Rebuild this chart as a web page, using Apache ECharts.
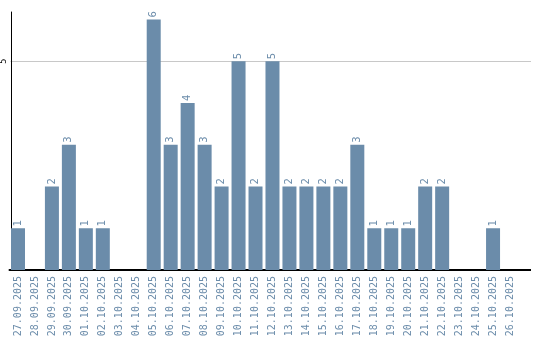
<!DOCTYPE html>
<html><head><meta charset="utf-8">
<script src="https://cdn.jsdelivr.net/npm/echarts@6/dist/echarts.min.js"></script>
<style>html,body{margin:0;padding:0;background:#fff}#c{width:540px;height:340px}</style>
</head><body><div id="c"></div>
<script>
const categories = ["27.09.2025","28.09.2025","29.09.2025","30.09.2025","01.10.2025","02.10.2025","03.10.2025","04.10.2025","05.10.2025","06.10.2025","07.10.2025","08.10.2025","09.10.2025","10.10.2025","11.10.2025","12.10.2025","13.10.2025","14.10.2025","15.10.2025","16.10.2025","17.10.2025","18.10.2025","19.10.2025","20.10.2025","21.10.2025","22.10.2025","23.10.2025","24.10.2025","25.10.2025","26.10.2025"];
const values = [1,0,2,3,1,1,0,0,6,3,4,3,2,5,2,5,2,2,2,2,3,1,1,1,2,2,0,0,1,0];
const gridLineValue = 5;
const color = '#6b8caa';
const chart = echarts.init(document.getElementById('c'));
chart.setOption({
  animation:false,
  grid:{left:8.5,width:510,top:12,bottom:70,containLabel:false},
  xAxis:{type:'category',data:categories,
    axisLine:{lineStyle:{color:'#000',width:2}},
    axisTick:{show:false},
    axisLabel:{rotate:90,interval:0,color:color,fontFamily:'DejaVu Sans Mono',fontSize:10,margin:6}},
  yAxis:{type:'value',min:0,max:6.18,interval:5,offset:-1.5,
    axisLine:{show:true,lineStyle:{color:'#000',width:1}},
    axisTick:{show:false},
    splitLine:{show:false},
    axisLabel:{rotate:90,showMinLabel:false,showMaxLabel:false,color:'#000',fontSize:8,margin:3,fontFamily:'DejaVu Sans'}},
  series:[{type:'bar',data:values.map(v=>v===0?null:v),barWidth:14,
    itemStyle:{color:color},
    label:{show:true,position:'top',rotate:90,align:'left',verticalAlign:'middle',distance:2,color:color,fontSize:10,fontFamily:'DejaVu Sans'}}]
});
const yGrid = chart.convertToPixel({yAxisIndex:0}, gridLineValue);
const yZero = chart.convertToPixel({yAxisIndex:0}, 0);
chart.setOption({graphic:[
  {type:'line',shape:{x1:10.5,y1:Math.round(yGrid)+0.5,x2:531,y2:Math.round(yGrid)+0.5},style:{stroke:'#c8c8c8',lineWidth:1},z:-1},
  {type:'line',shape:{x1:510,y1:yZero,x2:531,y2:yZero},style:{stroke:'#000',lineWidth:2},z:10}
]});
</script></body></html>
